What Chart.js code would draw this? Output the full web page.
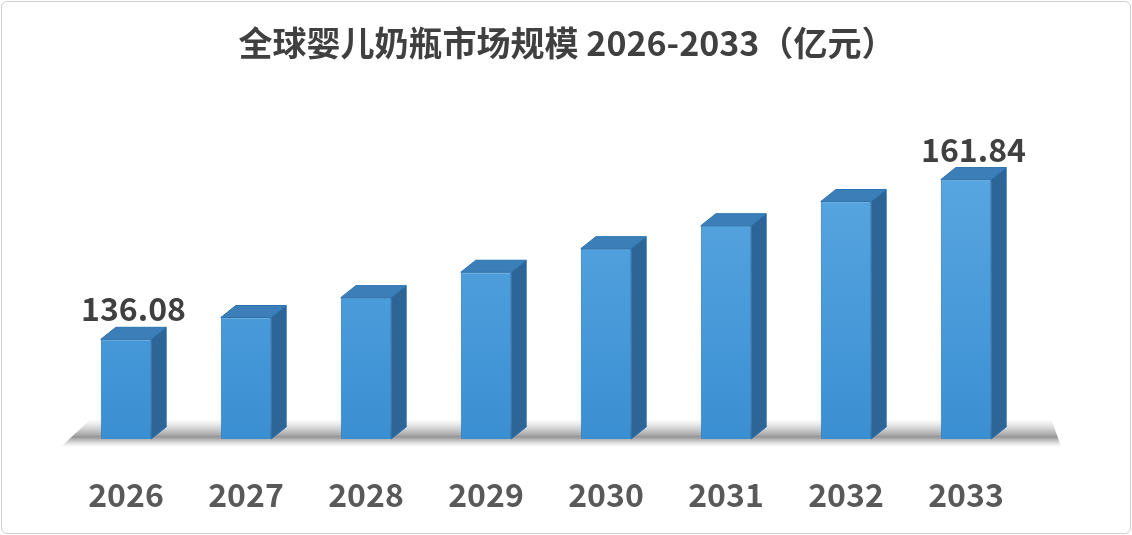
<!DOCTYPE html>
<html><head><meta charset="utf-8">
<script src="https://cdn.jsdelivr.net/npm/chart.js@4"></script>
<style>
html,body{margin:0;padding:0;background:#fff;}
#wrap{position:absolute;left:1px;top:1px;width:1128px;height:531px;border:1px solid #d0d0d0;border-radius:6px;overflow:hidden;}
</style></head><body>
<div id="wrap"><canvas id="c" width="1128" height="531"></canvas></div>
<script>
const categories=['2026','2027','2028','2029','2030','2031','2032','2033'];
const values=[136.08,139.6,142.8,146.9,150.7,154.4,158.3,161.84];
const titleText='全球婴儿奶瓶市场规模 2026-2033（亿元）';
const font="'Noto Sans CJK SC','Noto Sans',sans-serif";
const DX=15, DY=12;
const bar3d={id:'bar3d',
 beforeDatasetsDraw(chart){
  const ctx=chart.ctx, meta=chart.getDatasetMeta(0), y=chart.chartArea.bottom;
  ctx.save();
  ctx.fillStyle='#404040';ctx.font='bold 34px '+font;ctx.textAlign='center';ctx.textBaseline='middle';
  ctx.fillText(titleText,565,41);
  const first=meta.data[0], last=meta.data[meta.data.length-1];
  const l=first.x-first.width/2-10, r=last.x+last.width/2+DX+45;
  const g=ctx.createLinearGradient(0,y-20,0,y+8);
  g.addColorStop(0,'rgba(150,150,150,0)');g.addColorStop(0.65,'rgba(80,80,80,0.6)');g.addColorStop(1,'rgba(150,150,150,0)');
  ctx.fillStyle=g;ctx.beginPath();ctx.moveTo(l-30,y+8);ctx.lineTo(l,y-20);ctx.lineTo(r,y-20);ctx.lineTo(r+10,y+8);ctx.closePath();ctx.fill();
  ctx.restore();
 },
 afterDatasetsDraw(chart){
  const ctx=chart.ctx, meta=chart.getDatasetMeta(0), bt=chart.chartArea.bottom;
  ctx.save();
  meta.data.forEach((b,i)=>{
    const l=b.x-b.width/2, r=b.x+b.width/2, t=b.y;
    ctx.lineWidth=1;ctx.strokeStyle='#2a73b0';
    ctx.fillStyle='#2d6596';
    ctx.beginPath();ctx.moveTo(r,t);ctx.lineTo(r+DX,t-DY);ctx.lineTo(r+DX,bt-DY);ctx.lineTo(r,bt);ctx.closePath();ctx.fill();ctx.stroke();
    ctx.fillStyle='#3c7fb8';
    ctx.beginPath();ctx.moveTo(l,t);ctx.lineTo(l+DX,t-DY);ctx.lineTo(r+DX,t-DY);ctx.lineTo(r,t);ctx.closePath();ctx.fill();ctx.stroke();
    if(i===0||i===values.length-1){
      ctx.fillStyle='#404040';ctx.font='bold 32px '+font;ctx.textAlign='center';ctx.textBaseline='bottom';
      ctx.fillText(values[i].toFixed(2),b.x+DX/2,t-DY-2);
    }
  });
  ctx.restore();
 }};
new Chart(document.getElementById('c'),{
 type:'bar',
 data:{labels:categories,datasets:[{data:values,
   backgroundColor:(c)=>{const a=c.chart.chartArea;if(!a)return '#4a9ad8';const g=c.chart.ctx.createLinearGradient(0,a.top,0,a.bottom);g.addColorStop(0,'#5eaae3');g.addColorStop(1,'#3a8fd2');return g;},
   borderColor:'#2a77b8',borderWidth:1,barPercentage:0.42,categoryPercentage:1}]},
 options:{responsive:false,animation:false,devicePixelRatio:1,
  layout:{padding:{left:64,right:104,top:127,bottom:17}},
  plugins:{legend:{display:false},tooltip:{enabled:false},title:{display:false}},
  scales:{y:{display:false,min:120,max:170},
   x:{afterFit:(s)=>{s.height=77;},grid:{display:false},border:{display:false},ticks:{color:'#595959',font:{family:font,size:32,weight:'bold'},padding:29}}}
 },
 plugins:[bar3d]
});
</script>
</body></html>
